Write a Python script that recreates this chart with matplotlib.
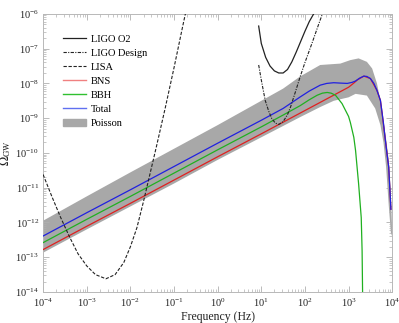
import numpy as np
import matplotlib
matplotlib.use("Agg")
import matplotlib.pyplot as plt
from matplotlib.lines import Line2D
from matplotlib.patches import Patch

plt.rcParams['font.family'] = ['Liberation Serif', 'DejaVu Serif']
plt.rcParams['mathtext.fontset'] = 'stix'
plt.rcParams['font.size'] = 8

# values (log10 of frequency in Hz, log10 of Omega_GW)
bns_f = [-4, -3, -2, -1, 0, 1, 2, 3.0, 3.12, 3.2, 3.35, 3.5, 3.65, 3.73, 3.77, 3.84, 3.92, 3.97]
bns_om = [-12.78, -12.11, -11.45, -10.78, -10.11, -9.45, -8.78, -8.11, -7.99, -7.9, -7.79, -7.86, -8.2, -8.49, -8.87, -9.6, -10.41, -11.62]

bbh_f = [-4, -3, -2, -1, 0, 1, 1.5, 1.89, 2.1, 2.28, 2.4, 2.51, 2.6, 2.7, 2.85, 3.0, 3.04,
         3.12, 3.16, 3.23, 3.29, 3.31, 3.33]
bbh_om = [-12.58, -11.91, -11.25, -10.58, -9.91, -9.25, -8.91, -8.64, -8.47, -8.34, -8.28, -8.26, -8.28,
          -8.34, -8.58, -8.95, -9.12, -9.55, -9.93, -10.89, -11.86, -12.82, -15.0]

tot_f = [-4, -3, -2, -1, 0, 1, 1.5, 1.89, 2.1, 2.35, 2.5, 2.66, 2.8, 2.97, 3.08, 3.16, 3.25, 3.35,
         3.42, 3.5, 3.58, 3.65, 3.7, 3.73, 3.77, 3.8, 3.84, 3.88, 3.92, 3.97]
tot_om = [-12.39, -11.72, -11.06, -10.39, -9.72, -9.06, -8.72, -8.39, -8.22, -8.05, -8.0, -7.98, -7.99,
          -8.0, -7.97, -7.93, -7.85, -7.79, -7.8, -7.86, -8.0, -8.2, -8.38, -8.49, -8.87, -9.15, -9.6,
          -10.02, -10.41, -11.62]

band_top_f = [-4, -3, -2, -1, 0, 1, 1.5, 1.89, 2.35, 2.81, 3.04, 3.23, 3.42, 3.54, 3.65, 3.73, 3.8,
              3.86, 3.92, 3.97, 4.0]
band_top_om = [-11.95, -11.25, -10.56, -9.88, -9.2, -8.5, -8.15, -7.8, -7.47, -7.43, -7.33, -7.28,
               -7.38, -7.57, -8.0, -8.49, -9.1, -9.6, -10.2, -11.2, -12.3]
band_bot_f = [-4, -3, -2, -1, 0, 1, 1.89, 2.35, 2.66, 3.0, 3.16, 3.42, 3.61, 3.73, 3.8, 3.86, 3.92,
              3.97, 4.0]
band_bot_om = [-12.87, -12.2, -11.54, -10.88, -10.2, -9.55, -8.97, -8.68, -8.5, -8.4, -8.3, -8.35,
               -8.72, -9.2, -9.7, -10.4, -11.5, -12.3, -12.4]

o2_f = [0.94, 1.0, 1.1, 1.2, 1.3, 1.4, 1.5, 1.6, 1.7, 1.8, 1.9, 2.0, 2.1, 2.2]
o2_om = [-6.35, -6.85, -7.25, -7.5, -7.64, -7.7, -7.7, -7.6, -7.38, -7.1, -6.8, -6.5, -6.22, -6.0]

design_f = [0.94, 1.0, 1.09, 1.17, 1.24, 1.32, 1.4, 1.5, 1.6, 1.67, 1.78, 1.89, 2.0, 2.16, 2.3, 2.4]
design_om = [-7.47, -7.9, -8.49, -8.8, -9.01, -9.14, -9.18, -9.1, -8.9, -8.68, -8.25, -7.81, -7.4,
             -6.85, -6.35, -6.0]

lisa_f = [-4.0, -3.8, -3.6, -3.4, -3.2, -3.0, -2.8, -2.56, -2.35, -2.15, -2.0, -1.85, -1.7, -1.55,
          -1.4, -1.2, -1.0, -0.8, -0.74]
lisa_om = [-10.62, -11.25, -11.85, -12.4, -12.9, -13.25, -13.5, -13.62, -13.5, -13.15, -12.7, -12.15,
           -11.4, -10.6, -9.8, -8.7, -7.55, -6.35, -6.0]


def p(a):
    return 10.0 ** np.array(a)


fig = plt.figure(figsize=(3.99, 3.23), dpi=100)
ax = fig.add_axes([0.108, 0.096, 0.875, 0.861])

band_x = np.concatenate([p(band_top_f), p(band_bot_f)[::-1]])
band_y = np.concatenate([p(band_top_om), p(band_bot_om)[::-1]])
ax.fill(band_x, band_y, color='#a8a8a8', lw=0, zorder=1)

ax.plot(p(bns_f), p(bns_om), color='#e02020', lw=0.9, zorder=3)
ax.plot(p(bbh_f), p(bbh_om), color='#20b020', lw=0.9, zorder=3)
ax.plot(p(tot_f), p(tot_om), color='#2020e0', lw=0.9, zorder=4)
ax.plot(p(o2_f), p(o2_om), color='#222222', lw=0.9, zorder=5)
ax.plot(p(design_f), p(design_om), color='#222222', lw=0.8, ls=(0, (3, 1.2, 1, 1.2)), zorder=5)
ax.plot(p(lisa_f), p(lisa_om), color='#222222', lw=0.8, ls=(0, (3, 1.5)), zorder=5)

ax.set_xscale('log')
ax.set_yscale('log')
ax.set_xlim(1e-4, 1e4)
ax.set_ylim(1e-14, 1e-6)
ax.set_xticks([10.0 ** k for k in range(-4, 5)])
ax.set_yticks([10.0 ** k for k in range(-14, -5)])
ax.xaxis.set_minor_locator(matplotlib.ticker.LogLocator(base=10, subs=np.arange(2, 10), numticks=20))
ax.yaxis.set_minor_locator(matplotlib.ticker.LogLocator(base=10, subs=np.arange(2, 10), numticks=20))
ax.xaxis.set_minor_formatter(matplotlib.ticker.NullFormatter())
ax.yaxis.set_minor_formatter(matplotlib.ticker.NullFormatter())
ax.tick_params(which='both', direction='in', top=True, right=True, color='#b0b0b0', labelsize=7.5,
               labelcolor='#222222')
ax.tick_params(axis='x', which='major', pad=3)
ax.tick_params(axis='y', which='major', pad=3)
ax.tick_params(which='major', length=4, width=0.6)
ax.tick_params(which='minor', length=2, width=0.5)
for s in ax.spines.values():
    s.set_color('#b8b8b8')
    s.set_linewidth(0.7)

ax.set_xlabel('Frequency (Hz)', fontsize=8.5, color='#222222', labelpad=2)
ax.set_ylabel(r'$\Omega_{\rm GW}$', fontsize=9, color='#222222', labelpad=0)
ax.yaxis.set_label_coords(-0.085, 0.5)

handles = [
    Line2D([], [], color='#222222', lw=0.9),
    Line2D([], [], color='#222222', lw=0.8, ls=(0, (3, 1.2, 1, 1.2))),
    Line2D([], [], color='#222222', lw=0.8, ls=(0, (3, 1.5))),
    Line2D([], [], color='#f08080', lw=1.0),
    Line2D([], [], color='#30c030', lw=1.0),
    Line2D([], [], color='#6070f0', lw=1.0),
    Patch(color='#a8a8a8'),
]
labels = ['LIGO O2', 'LIGO Design', 'LISA', 'BNS', 'BBH', 'Total', 'Poisson']
ax.legend(handles, labels, loc='upper left', bbox_to_anchor=(0.045, 0.94), frameon=False,
          fontsize=7.5, handlelength=2.2, handletextpad=0.5, labelspacing=0.45, borderaxespad=0)

fig.savefig('out.png', dpi=100)
